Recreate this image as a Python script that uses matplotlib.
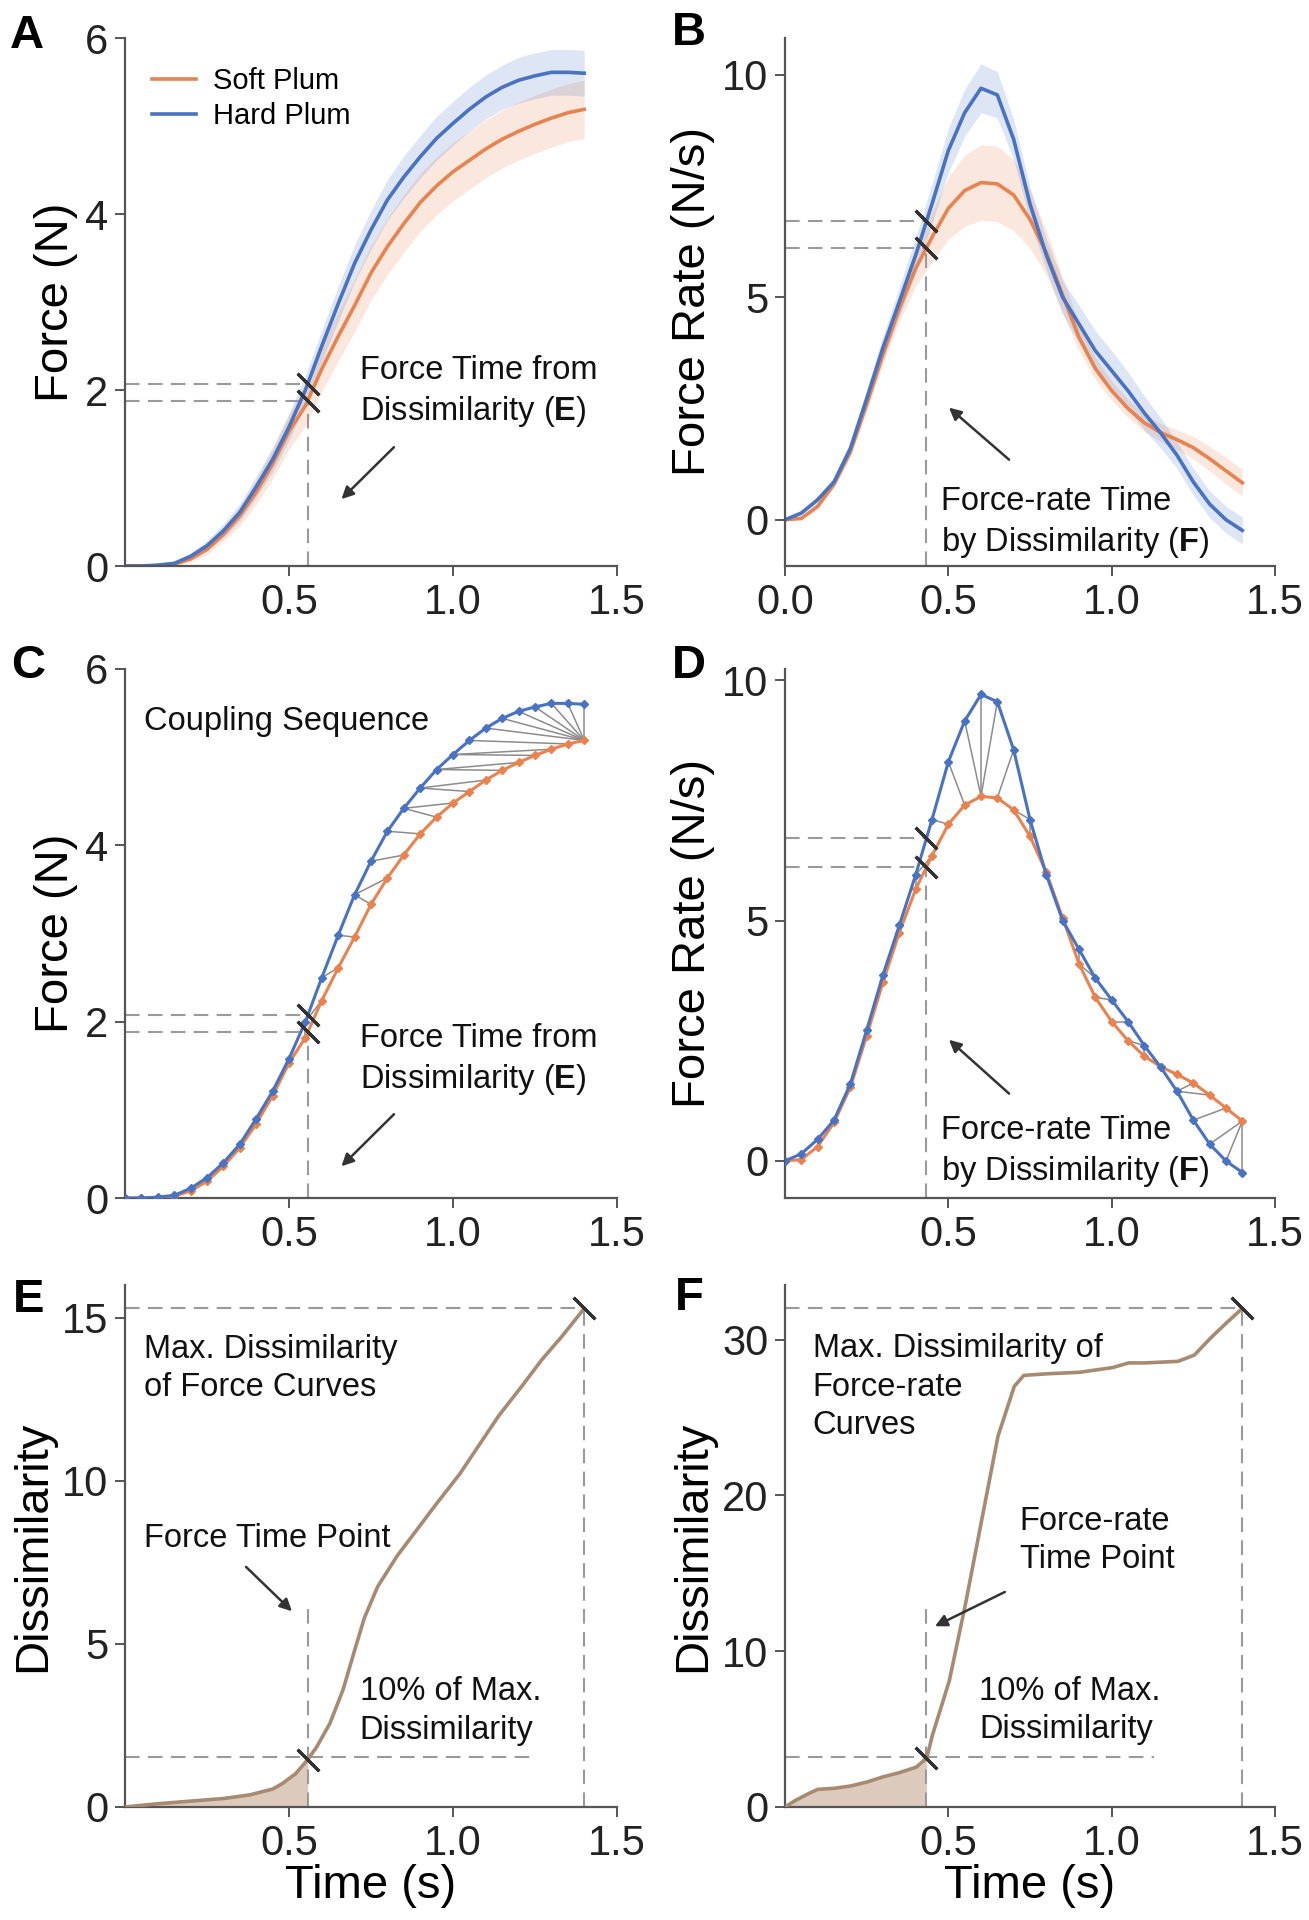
import numpy as np
import matplotlib
matplotlib.use("Agg")
import matplotlib.pyplot as plt

plt.rcParams['font.family'] = ['Liberation Sans', 'DejaVu Sans']
plt.rcParams['mathtext.fontset'] = 'custom'
plt.rcParams['mathtext.rm'] = 'Liberation Sans'
plt.rcParams['mathtext.bf'] = 'Liberation Sans:bold'

# ---- data ----
time = [0.0, 0.05, 0.1, 0.15, 0.2, 0.25, 0.3, 0.35, 0.4, 0.45, 0.5, 0.55, 0.6, 0.65, 0.7,
        0.75, 0.8, 0.85, 0.9, 0.95, 1.0, 1.05, 1.1, 1.15, 1.2, 1.25, 1.3, 1.35, 1.4]

force_hard = [0, 0, 0.01, 0.03, 0.11, 0.23, 0.40, 0.61, 0.90, 1.21, 1.58, 2.0, 2.5, 2.98, 3.44,
              3.82, 4.16, 4.42, 4.65, 4.86, 5.03, 5.19, 5.33, 5.44, 5.52, 5.57, 5.61, 5.61, 5.6]
force_soft = [0, 0, 0, 0.02, 0.08, 0.19, 0.36, 0.57, 0.84, 1.16, 1.53, 1.82, 2.24, 2.61, 2.96,
              3.33, 3.63, 3.89, 4.13, 4.32, 4.48, 4.61, 4.74, 4.85, 4.94, 5.02, 5.09, 5.15, 5.19]
force_hard_sd = [0, 0, 0.01, 0.02, 0.04, 0.06, 0.08, 0.1, 0.12, 0.14, 0.15, 0.17, 0.18, 0.2, 0.21,
                 0.22, 0.23, 0.24, 0.24, 0.25, 0.25, 0.25, 0.25, 0.25, 0.26, 0.26, 0.26, 0.26, 0.26]
force_soft_sd = [0, 0, 0.01, 0.02, 0.04, 0.06, 0.08, 0.11, 0.14, 0.17, 0.2, 0.23, 0.26, 0.28, 0.3,
                 0.31, 0.32, 0.33, 0.33, 0.33, 0.33, 0.33, 0.33, 0.33, 0.33, 0.33, 0.33, 0.33, 0.33]

rate_hard = [0, 0.15, 0.45, 0.85, 1.6, 2.72, 3.87, 4.9, 5.95, 7.1, 8.3, 9.15, 9.7, 9.55, 8.55,
             7.1, 5.95, 5.0, 4.4, 3.8, 3.35, 2.9, 2.4, 1.95, 1.45, 0.85, 0.35, 0.0, -0.24]
rate_soft = [0, 0.03, 0.3, 0.8, 1.53, 2.6, 3.72, 4.75, 5.65, 6.35, 7.0, 7.4, 7.58, 7.55, 7.3,
             6.75, 6.0, 5.05, 4.1, 3.4, 2.9, 2.5, 2.18, 1.96, 1.8, 1.62, 1.37, 1.1, 0.83]
rate_hard_sd = [0.02, 0.04, 0.07, 0.1, 0.15, 0.2, 0.27, 0.33, 0.4, 0.45, 0.5, 0.53, 0.55, 0.52, 0.45,
                0.38, 0.35, 0.38, 0.42, 0.45, 0.45, 0.42, 0.38, 0.34, 0.3, 0.3, 0.3, 0.3, 0.3]
rate_soft_sd = [0.02, 0.03, 0.05, 0.08, 0.12, 0.17, 0.22, 0.3, 0.4, 0.55, 0.7, 0.8, 0.85, 0.85, 0.8,
                0.65, 0.5, 0.4, 0.3, 0.25, 0.22, 0.2, 0.2, 0.2, 0.22, 0.25, 0.28, 0.3, 0.3]

dis_force_t = [0, 0.1, 0.2, 0.3, 0.38, 0.45, 0.48, 0.52, 0.557, 0.585, 0.625, 0.665, 0.70, 0.73,
               0.77, 0.83, 0.89, 0.95, 1.02, 1.08, 1.14, 1.21, 1.27, 1.33, 1.40]
dis_force = [0, 0.1, 0.18, 0.26, 0.37, 0.55, 0.72, 1.02, 1.45, 1.85, 2.57, 3.6, 4.8, 5.8,
             6.75, 7.7, 8.5, 9.3, 10.2, 11.1, 12.0, 12.9, 13.7, 14.4, 15.28]

dis_rate_t = [0, 0.03, 0.072, 0.1, 0.151, 0.201, 0.252, 0.301, 0.351, 0.402, 0.434, 0.451, 0.503,
              0.552, 0.602, 0.652, 0.702, 0.731, 0.802, 0.902, 1.003, 1.052, 1.102, 1.203, 1.253,
              1.303, 1.353, 1.40]
dis_rate = [0, 0.4, 0.86, 1.13, 1.2, 1.35, 1.61, 1.94, 2.21, 2.56, 3.15, 4.59, 8.1,
            12.97, 18.4, 23.8, 27.0, 27.7, 27.8, 27.9, 28.2, 28.5, 28.5, 28.6, 29.0,
            30.1, 31.1, 32.0]

t_force = 0.557
t_rate = 0.433
legend_labels = ['Soft Plum', 'Hard Plum']

SOFT = '#e8834f'
HARD = '#4872c2'
DIS = '#a68b72'
DIS_FILL = '#dccbbd'
GREY = '#9a9a9a'
DARK = '#333333'

W, H = 1309, 1920
fig = plt.figure(figsize=(W / 100, H / 100), dpi=100)


def add_ax(l, t, r, b):
    return fig.add_axes([l / W, 1 - b / H, (r - l) / W, (b - t) / H])


def style(ax, xt, xl, yt, ylim):
    for s in ['top', 'right']:
        ax.spines[s].set_visible(False)
    for s in ['left', 'bottom']:
        ax.spines[s].set_color('#555555')
        ax.spines[s].set_linewidth(1.6)
    ax.set_xlim(0, 1.5)
    ax.set_ylim(*ylim)
    ax.set_xticks(xt)
    ax.set_xticklabels(xl)
    ax.set_yticks(yt)
    ax.tick_params(labelsize=30, length=7, width=1.4, color='#555555', labelcolor='#222222', pad=5)


def dashed(ax, x, y):
    ax.plot(x, y, color=GREY, lw=1.5, dashes=(7, 4), zorder=1)


def cross(ax, x, y):
    ax.plot(x, y, ls='none', marker=(2, 2, 45), ms=22, mew=2.2, color=DARK, zorder=6)


def dtw_path(a, b):
    n, m = len(a), len(b)
    cost = np.full((n + 1, m + 1), np.inf)
    cost[0, 0] = 0
    for i in range(1, n + 1):
        for j in range(1, m + 1):
            d = abs(a[i - 1] - b[j - 1])
            cost[i, j] = d + min(cost[i - 1, j], cost[i, j - 1], cost[i - 1, j - 1])
    i, j = n, m
    path = [(i - 1, j - 1)]
    while i > 1 or j > 1:
        opts = [(cost[i - 1, j - 1], i - 1, j - 1), (cost[i - 1, j], i - 1, j), (cost[i, j - 1], i, j - 1)]
        _, i, j = min(opts, key=lambda o: o[0])
        path.append((i - 1, j - 1))
    return path[::-1]


t = np.array(time)
arrow = dict(arrowstyle='-|>', color=DARK, lw=1.8, mutation_scale=18, shrinkA=0, shrinkB=0)
txt = dict(fontsize=23.5, color='#111111', va='top', linespacing=1.3)

# ---- A ----
ax = add_ax(125, 38, 617, 566)
for y, sd, c in [(force_soft, force_soft_sd, SOFT), (force_hard, force_hard_sd, HARD)]:
    y, sd = np.array(y), np.array(sd)
    ax.fill_between(t, y - sd, y + sd, color=c, alpha=0.18, lw=0)
ax.plot(t, force_soft, color=SOFT, lw=2.6, label=legend_labels[0])
ax.plot(t, force_hard, color=HARD, lw=2.6, label=legend_labels[1])
fh, fs = np.interp(t_force, t, force_hard), np.interp(t_force, t, force_soft)
dashed(ax, [0, t_force], [fh, fh])
dashed(ax, [0, t_force], [fs, fs])
dashed(ax, [t_force, t_force], [0, fs])
cross(ax, [t_force, t_force], [fh, fs])
ax.text(0.716, 2.4, 'Force Time from\nDissimilarity ($\\mathbf{E}$)', **txt)
ax.annotate('', xy=(0.66, 0.76), xytext=(0.82, 1.35), arrowprops=arrow)
ax.legend(loc='upper left', bbox_to_anchor=(0.055, 0.945), frameon=False, fontsize=21,
          handlelength=1.5, handletextpad=0.6, labelspacing=0.25, borderpad=0, borderaxespad=0)
style(ax, [0.5, 1.0, 1.5], ['0.5', '1.0', '1.5'], [0, 2, 4, 6], (0, 6))
ax.set_ylabel('Force (N)', fontsize=34, labelpad=5)

# ---- B ----
ax = add_ax(785, 38, 1275, 566)
for y, sd, c in [(rate_soft, rate_soft_sd, SOFT), (rate_hard, rate_hard_sd, HARD)]:
    y, sd = np.array(y), np.array(sd)
    ax.fill_between(t, y - sd, y + sd, color=c, alpha=0.18, lw=0)
ax.plot(t, rate_soft, color=SOFT, lw=2.6)
ax.plot(t, rate_hard, color=HARD, lw=2.6)
rh, rs = np.interp(t_rate, t, rate_hard), np.interp(t_rate, t, rate_soft)
dashed(ax, [0, t_rate], [rh, rh])
dashed(ax, [0, t_rate], [rs, rs])
dashed(ax, [t_rate, t_rate], [-1.04, rs])
cross(ax, [t_rate, t_rate], [rh, rs])
ax.text(0.479, 0.75, 'Force-rate Time\nby Dissimilarity ($\\mathbf{F}$)', **txt)
ax.annotate('', xy=(0.502, 2.52), xytext=(0.686, 1.35), arrowprops=arrow)
style(ax, [0, 0.5, 1.0, 1.5], ['0.0', '0.5', '1.0', '1.5'], [0, 5, 10], (-1.04, 10.83))
ax.set_ylabel('Force Rate (N/s)', fontsize=34, labelpad=5)

# ---- C ----
ax = add_ax(125, 669, 617, 1198)
for i, j in dtw_path(force_hard, force_soft):
    ax.plot([t[i], t[j]], [force_hard[i], force_soft[j]], color='#8c8c8c', lw=1.1, zorder=1)
ax.plot(t, force_soft, color=SOFT, lw=2.2, marker='D', ms=4.5, zorder=3)
ax.plot(t, force_hard, color=HARD, lw=2.2, marker='D', ms=4.5, zorder=3)
dashed(ax, [0, t_force], [fh, fh])
dashed(ax, [0, t_force], [fs, fs])
dashed(ax, [t_force, t_force], [0, fs])
cross(ax, [t_force, t_force], [fh, fs])
ax.text(0.058, 5.4, 'Coupling Sequence', fontsize=23.5, color='#111111', va='center')
ax.text(0.716, 1.98, 'Force Time from\nDissimilarity ($\\mathbf{E}$)', **txt)
ax.annotate('', xy=(0.66, 0.36), xytext=(0.82, 0.95), arrowprops=arrow)
style(ax, [0.5, 1.0, 1.5], ['0.5', '1.0', '1.5'], [0, 2, 4, 6], (0, 6))
ax.set_ylabel('Force (N)', fontsize=34, labelpad=5)

# ---- D ----
ax = add_ax(785, 669, 1275, 1198)
for i, j in dtw_path(rate_hard, rate_soft):
    ax.plot([t[i], t[j]], [rate_hard[i], rate_soft[j]], color='#8c8c8c', lw=1.1, zorder=1)
ax.plot(t, rate_soft, color=SOFT, lw=2.2, marker='D', ms=4.5, zorder=3)
ax.plot(t, rate_hard, color=HARD, lw=2.2, marker='D', ms=4.5, zorder=3)
dashed(ax, [0, t_rate], [rh, rh])
dashed(ax, [0, t_rate], [rs, rs])
dashed(ax, [t_rate, t_rate], [-0.77, rs])
cross(ax, [t_rate, t_rate], [rh, rs])
ax.text(0.479, 0.95, 'Force-rate Time\nby Dissimilarity ($\\mathbf{F}$)', **txt)
ax.annotate('', xy=(0.502, 2.52), xytext=(0.686, 1.40), arrowprops=arrow)
style(ax, [0.5, 1.0, 1.5], ['0.5', '1.0', '1.5'], [0, 5, 10], (-0.77, 10.23))
ax.set_ylabel('Force Rate (N/s)', fontsize=34, labelpad=5)

# ---- E ----
ax = add_ax(125, 1285, 617, 1807)
te, de = np.array(dis_force_t), np.array(dis_force)
dmax = de.max()
thr = 0.1 * dmax
m = te <= t_force
ax.fill_between(np.append(te[m], t_force), np.append(de[m], np.interp(t_force, te, de)),
                color=DIS_FILL, lw=0)
ax.plot(te, de, color=DIS, lw=2.6, zorder=3)
dashed(ax, [0, 1.24], [thr, thr])
dashed(ax, [t_force, t_force], [0, 6.25])
dashed(ax, [0, te[-1]], [dmax, dmax])
dashed(ax, [te[-1], te[-1]], [0, dmax])
cross(ax, [t_force, te[-1]], [np.interp(t_force, te, de), dmax])
ax.text(0.058, 14.5, 'Max. Dissimilarity\nof Force Curves', **txt)
ax.text(0.058, 8.7, 'Force Time Point', **txt)
ax.annotate('', xy=(0.509, 6.0), xytext=(0.369, 7.36), arrowprops=arrow)
ax.text(0.716, 4.0, '10% of Max.\nDissimilarity', **txt)
style(ax, [0.5, 1.0, 1.5], ['0.5', '1.0', '1.5'], [0, 5, 10, 15], (0, 16))
ax.set_ylabel('Dissimilarity', fontsize=34, labelpad=5)
ax.set_xlabel('Time (s)', fontsize=34, labelpad=0)

# ---- F ----
ax = add_ax(785, 1285, 1275, 1807)
tf, df = np.array(dis_rate_t), np.array(dis_rate)
dmax = df.max()
thr = 0.1 * dmax
m = tf <= t_rate
ax.fill_between(np.append(tf[m], t_rate), np.append(df[m], np.interp(t_rate, tf, df)),
                color=DIS_FILL, lw=0)
ax.plot(tf, df, color=DIS, lw=2.6, zorder=3)
dashed(ax, [0, 1.13], [thr, thr])
dashed(ax, [t_rate, t_rate], [0, 13.1])
dashed(ax, [0, tf[-1]], [dmax, dmax])
dashed(ax, [tf[-1], tf[-1]], [0, dmax])
cross(ax, [t_rate, tf[-1]], [np.interp(t_rate, tf, df), dmax])
ax.text(0.085, 30.4, 'Max. Dissimilarity of\nForce-rate\nCurves', **txt)
ax.text(0.718, 19.3, 'Force-rate\nTime Point', **txt)
ax.annotate('', xy=(0.459, 11.6), xytext=(0.673, 13.8), arrowprops=arrow)
ax.text(0.595, 8.4, '10% of Max.\nDissimilarity', **txt)
style(ax, [0.5, 1.0, 1.5], ['0.5', '1.0', '1.5'], [0, 10, 20, 30], (0, 33.5))
ax.set_ylabel('Dissimilarity', fontsize=34, labelpad=5)
ax.set_xlabel('Time (s)', fontsize=34, labelpad=0)

# panel letters
for letter, x, y in [('A', 27, 36), ('B', 689, 33), ('C', 28, 666), ('D', 689, 666),
                     ('E', 29, 1300), ('F', 689, 1298)]:
    fig.text(x / W, 1 - y / H, letter, fontsize=34, fontweight='bold', ha='center', va='center')

fig.savefig('out.png', dpi=100)
